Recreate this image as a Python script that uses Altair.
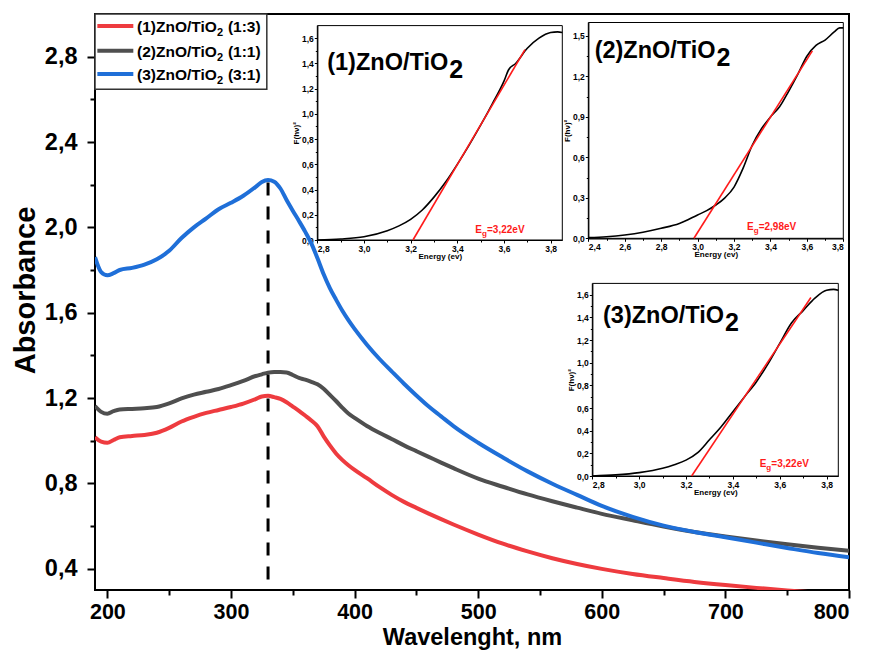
import altair as alt
import pandas as pd

FONT = "Liberation Sans"
COMMA1 = "replace(format(datum.value, '.1f'), '.', ',')"

# ---------------- main spectra ----------------
wavelength_nm = [190, 195, 200, 205, 210, 220, 230, 240, 250, 260, 270, 280, 290, 300, 310, 320,
                 325, 330, 335, 340, 345, 350, 355, 360, 365, 370, 375, 380, 385, 390, 395, 400,
                 410, 420, 430, 440, 450, 460, 470, 480, 500, 520, 540, 560, 580, 600,
                 625, 650, 675, 700, 725, 750, 775, 800]
absorb_13 = [1.016, 0.995, 0.990, 1.003, 1.016, 1.022, 1.027, 1.037, 1.060, 1.090, 1.112, 1.130, 1.144, 1.158, 1.174, 1.195,
             1.207, 1.210, 1.204, 1.196, 1.180, 1.160, 1.140, 1.118, 1.095, 1.068, 1.020, 0.978, 0.940, 0.910, 0.885, 0.863,
             0.824, 0.783, 0.746, 0.713, 0.685, 0.658, 0.632, 0.607, 0.560, 0.517, 0.481, 0.449, 0.422, 0.399,
             0.375, 0.356, 0.338, 0.323, 0.310, 0.298, 0.287, 0.277]
absorb_11 = [1.162, 1.135, 1.126, 1.138, 1.146, 1.149, 1.152, 1.158, 1.175, 1.198, 1.216, 1.229, 1.242, 1.260, 1.280, 1.303,
             1.311, 1.319, 1.322, 1.322, 1.320, 1.308, 1.294, 1.286, 1.276, 1.264, 1.243, 1.215, 1.186, 1.155, 1.127, 1.107,
             1.069, 1.037, 1.008, 0.978, 0.951, 0.924, 0.897, 0.871, 0.822, 0.784, 0.748, 0.716, 0.686, 0.657,
             0.627, 0.598, 0.572, 0.551, 0.532, 0.514, 0.498, 0.484]
absorb_31 = [1.860, 1.790, 1.775, 1.785, 1.800, 1.810, 1.825, 1.850, 1.890, 1.950, 2.000, 2.042, 2.085, 2.115, 2.148, 2.190,
             2.213, 2.222, 2.214, 2.182, 2.128, 2.078, 2.030, 1.980, 1.925, 1.855, 1.780, 1.715, 1.661, 1.610, 1.565, 1.524,
             1.450, 1.384, 1.325, 1.267, 1.212, 1.160, 1.114, 1.068, 0.990, 0.921, 0.856, 0.798, 0.746, 0.694,
             0.643, 0.602, 0.572, 0.547, 0.522, 0.497, 0.473, 0.453]
series_names = ["(1)ZnO/TiO2 (1:3)", "(2)ZnO/TiO2 (1:1)", "(3)ZnO/TiO2 (3:1)"]
series_colors = ["#EE3B3F", "#4F4F4F", "#1F6FD8"]

main_x_ticks = [200, 300, 400, 500, 600, 700, 800]
main_x_minor = [250, 350, 450, 550, 650, 750]
main_y_ticks = [0.4, 0.8, 1.2, 1.6, 2.0, 2.4, 2.8]
main_y_minor = [0.6, 1.0, 1.4, 1.8, 2.2, 2.6]

peak_nm = [330]
peak_top = [2.21]
peak_bottom = [0.3]

# legend (drawn in main data coordinates)
legend_box_x = [190, 329]
legend_box_y = [2.647, 3.0]
legend_line_x = [191.9, 221.0]
legend_rows_y = [2.944, 2.828, 2.719]
legend_text_main = ["(1)ZnO/TiO", "(2)ZnO/TiO", "(3)ZnO/TiO"]
legend_text_sub = ["2", "2", "2"]
legend_text_ratio = ["(1:3)", "(1:1)", "(3:1)"]
legend_junction_x = 288.6

# ---------------- insets (Tauc plots) ----------------
inset1_energy = [2.80, 2.90, 3.00, 3.10, 3.15, 3.20, 3.25, 3.30, 3.35, 3.40, 3.45, 3.50, 3.55, 3.60, 3.62,
                 3.65, 3.70, 3.75, 3.80, 3.83, 3.85]
inset1_f = [0.000, 0.008, 0.026, 0.074, 0.112, 0.164, 0.238, 0.340, 0.460, 0.600, 0.750, 0.910, 1.080, 1.260, 1.350,
            1.400, 1.520, 1.600, 1.645, 1.650, 1.645]
inset1_fit_e = [3.21, 3.69]
inset1_fit_f = [0.0, 1.51]

inset2_energy = [2.40, 2.50, 2.60, 2.70, 2.80, 2.90, 3.00, 3.05, 3.10, 3.15, 3.20, 3.25, 3.30, 3.35, 3.40,
                 3.45, 3.50, 3.55, 3.60, 3.65, 3.70, 3.75, 3.78, 3.80]
inset2_f = [0.005, 0.012, 0.025, 0.045, 0.074, 0.110, 0.173, 0.205, 0.247, 0.300, 0.380, 0.520, 0.690, 0.810, 0.900,
            0.975, 1.090, 1.215, 1.350, 1.430, 1.470, 1.530, 1.560, 1.560]
inset2_fit_e = [2.98, 3.63]
inset2_fit_f = [0.0, 1.39]

inset3_energy = [2.80, 2.90, 3.00, 3.10, 3.15, 3.20, 3.25, 3.30, 3.35, 3.40, 3.45, 3.50, 3.55, 3.60, 3.65,
                 3.70, 3.75, 3.80, 3.83, 3.85]
inset3_f = [0.000, 0.010, 0.030, 0.068, 0.100, 0.140, 0.206, 0.320, 0.435, 0.568, 0.700, 0.830, 0.990, 1.170, 1.350,
            1.460, 1.570, 1.640, 1.647, 1.640]
inset3_fit_e = [3.224, 3.733]
inset3_fit_f = [0.0, 1.576]

inset_titles = ["(1)ZnO/TiO", "(2)ZnO/TiO", "(3)ZnO/TiO"]
inset_title_at = [(3.361, 1.348), (3.099, 1.334), (3.362, 1.353)]
inset_eg_text = ["=3,22eV", "=2,98eV", "=3,22eV"]
inset_eg_at = [(3.506, 0.053), (3.308, 0.062), (3.543, 0.082)]

in1_x_ticks = [2.8, 3.0, 3.2, 3.4, 3.6, 3.8]
in1_x_minor = [2.9, 3.1, 3.3, 3.5, 3.7]
in1_y_ticks = [0.0, 0.2, 0.4, 0.6, 0.8, 1.0, 1.2, 1.4, 1.6]
in1_y_minor = [0.1, 0.3, 0.5, 0.7, 0.9, 1.1, 1.3, 1.5]
in2_x_ticks = [2.4, 2.6, 2.8, 3.0, 3.2, 3.4, 3.6, 3.8]
in2_x_minor = [2.5, 2.7, 2.9, 3.1, 3.3, 3.5, 3.7]
in2_y_ticks = [0.0, 0.3, 0.6, 0.9, 1.2, 1.5]
in2_y_minor = [0.15, 0.45, 0.75, 1.05, 1.35]

# panel geometry (scale domains / pixel ranges inside the main plot area)
W, H = 754, 576
MAIN = dict(xd=[190, 800], yd=[0.3, 3.0], xr=None, yr=None, xo=0, yo=0)
IN1 = dict(xd=[2.8, 3.85], yd=[0.0, 1.7], xr=[222.3, 467.3], yr=[226.0, 11.6], xo=226.0 - H, yo=-222.3)
IN2 = dict(xd=[2.4, 3.8], yd=[0.0, 1.6], xr=[493.3, 748.3], yr=[224.3, 8.5], xo=224.3 - H, yo=-493.3)
IN3 = dict(xd=[2.8, 3.85], yd=[0.0, 1.7], xr=[497.3, 743.3], yr=[462.0, 269.4], xo=462.0 - H, yo=-497.3)


def sc(dom, rng):
    if rng is None:
        return alt.Scale(domain=dom, nice=False, zero=False)
    return alt.Scale(domain=dom, range=rng, nice=False, zero=False)


def X(p, f, axis=None):
    return alt.X(f, type="quantitative", scale=sc(p["xd"], p["xr"]), axis=axis)


def Y(p, f, axis=None):
    return alt.Y(f, type="quantitative", scale=sc(p["yd"], p["yr"]), axis=axis)


layers = []

# main curves
rows = []
for name, vals in zip(series_names, [absorb_13, absorb_11, absorb_31]):
    for w, a in zip(wavelength_nm, vals):
        rows.append({"wl": w, "a": a, "s": name})
df_main = pd.DataFrame(rows)

main_xaxis = alt.Axis(orient="bottom", values=main_x_ticks, format="d", labelFont=FONT, labelFontWeight="bold",
                      labelFontSize=21.5, labelColor="black", tickColor="black", tickWidth=2, tickSize=8,
                      labelPadding=3, domain=False, grid=False, title="Wavelenght, nm", titleFont=FONT,
                      titleFontSize=23.5, titleFontWeight="bold", titleColor="black", titlePadding=3)
main_yaxis = alt.Axis(orient="left", values=main_y_ticks, labelExpr=COMMA1, labelFont=FONT, labelFontWeight="bold",
                      labelFontSize=23.5, labelColor="black", tickColor="black", tickWidth=2, tickSize=8,
                      labelPadding=10, domain=False, grid=False, title="Absorbance", titleFont=FONT,
                      titleFontSize=29, titleFontWeight="bold", titleColor="black", titlePadding=4, titleY=276)

layers.append(
    alt.Chart(df_main).mark_line(strokeWidth=4, clip=True, interpolate="monotone").encode(
        x=X(MAIN, "wl", main_xaxis), y=Y(MAIN, "a", main_yaxis),
        color=alt.Color("s:N", scale=alt.Scale(domain=series_names, range=series_colors), legend=None),
    )
)

# main minor ticks
minor_x_axis = alt.Axis(orient="bottom", values=main_x_minor, labels=False, tickColor="black", tickWidth=2,
                        tickSize=5, domain=False, grid=False, title=None)
minor_y_axis = alt.Axis(orient="left", values=main_y_minor, labels=False, tickColor="black", tickWidth=2,
                        tickSize=5, domain=False, grid=False, title=None)
layers.append(
    alt.Chart(df_main).mark_point(opacity=0).encode(x=X(MAIN, "wl", minor_x_axis), y=Y(MAIN, "a", minor_y_axis))
)

# dashed peak marker
df_peak = pd.DataFrame({"x": peak_nm, "y": peak_top, "y2": peak_bottom})
layers.append(
    alt.Chart(df_peak).mark_rule(color="black", strokeWidth=3, strokeDash=[13, 11]).encode(
        x=X(MAIN, "x"), y=Y(MAIN, "y"), y2="y2:Q"
    )
)

# legend
df_lbox = pd.DataFrame({"x": [legend_box_x[0]], "x2": [legend_box_x[1]], "y": [legend_box_y[0]], "y2": [legend_box_y[1]]})
layers.append(
    alt.Chart(df_lbox).mark_rect(fill="white", stroke="#333333", strokeWidth=1.5).encode(
        x=X(MAIN, "x"), x2="x2:Q", y=Y(MAIN, "y"), y2="y2:Q"
    )
)
df_lline = pd.DataFrame({"x": [legend_line_x[0]] * 3, "x2": [legend_line_x[1]] * 3, "y": legend_rows_y,
                         "s": series_names})
layers.append(
    alt.Chart(df_lline).mark_rule(strokeWidth=4).encode(
        x=X(MAIN, "x"), x2="x2:Q", y=Y(MAIN, "y"),
        color=alt.Color("s:N", scale=alt.Scale(domain=series_names, range=series_colors), legend=None),
    )
)
df_ltext = pd.DataFrame({"x": [legend_junction_x] * 3, "y": legend_rows_y, "main": legend_text_main,
                         "sub": legend_text_sub, "ratio": legend_text_ratio})
layers.append(
    alt.Chart(df_ltext).mark_text(align="right", baseline="alphabetic", dy=6, font=FONT, fontWeight="bold",
                                  fontSize=15.5, color="black").encode(x=X(MAIN, "x"), y=Y(MAIN, "y"), text="main:N")
)
layers.append(
    alt.Chart(df_ltext).mark_text(align="left", baseline="alphabetic", dy=10, font=FONT, fontWeight="bold",
                                  fontSize=11, color="black").encode(x=X(MAIN, "x"), y=Y(MAIN, "y"), text="sub:N")
)
layers.append(
    alt.Chart(df_ltext).mark_text(align="left", baseline="alphabetic", dx=11, dy=6, font=FONT, fontWeight="bold",
                                  fontSize=15.5, color="black").encode(x=X(MAIN, "x"), y=Y(MAIN, "y"), text="ratio:N")
)


def inset(p, energy, f, fit_e, fit_f, xt, xm, yt, ym, title, title_at, eg, eg_at):
    out = []
    xa = alt.Axis(orient="bottom", offset=p["xo"], values=xt, labelExpr=COMMA1, labelFont=FONT,
                  labelFontWeight="bold", labelFontSize=8.5, labelColor="black", labelPadding=1,
                  tickColor="black", tickSize=3, tickWidth=1, domainColor="black", domainWidth=1.2,
                  grid=False, title="Energy (ev)", titleFont=FONT, titleFontSize=8, titleFontWeight="bold",
                  titleColor="black", titlePadding=0)
    ya = alt.Axis(orient="left", offset=p["yo"], values=yt, labelExpr=COMMA1, labelFont=FONT,
                  labelFontWeight="bold", labelFontSize=8.5, labelColor="black", labelPadding=1,
                  tickColor="black", tickSize=3, tickWidth=1, domainColor="black", domainWidth=1.2,
                  grid=False, title="F(hν)²", titleFont=FONT, titleFontSize=8, titleFontWeight="bold",
                  titleColor="black", titlePadding=1)
    df = pd.DataFrame({"e": energy, "f": f})
    # frame
    dfb = pd.DataFrame({"x": [p["xd"][0]], "x2": [p["xd"][1]], "y": [p["yd"][0]], "y2": [p["yd"][1]]})
    out.append(alt.Chart(dfb).mark_rect(fillOpacity=0, stroke="black", strokeWidth=1).encode(
        x=X(p, "x"), x2="x2:Q", y=Y(p, "y"), y2="y2:Q"))
    out.append(alt.Chart(df).mark_line(color="black", strokeWidth=1.6, interpolate="monotone").encode(
        x=X(p, "e", xa), y=Y(p, "f", ya)))
    xma = alt.Axis(orient="bottom", offset=p["xo"], values=xm, labels=False, tickColor="black", tickSize=2,
                   tickWidth=1, domain=False, grid=False, title=None)
    yma = alt.Axis(orient="left", offset=p["yo"], values=ym, labels=False, tickColor="black", tickSize=2,
                   tickWidth=1, domain=False, grid=False, title=None)
    out.append(alt.Chart(df).mark_point(opacity=0).encode(x=X(p, "e", xma), y=Y(p, "f", yma)))
    dff = pd.DataFrame({"e": fit_e, "f": fit_f})
    out.append(alt.Chart(dff).mark_line(color="#FF1A1A", strokeWidth=1.6).encode(x=X(p, "e"), y=Y(p, "f")))
    dft = pd.DataFrame({"x": [title_at[0]], "y": [title_at[1]], "t": [title], "s": ["2"]})
    out.append(alt.Chart(dft).mark_text(align="right", baseline="alphabetic", font=FONT, fontWeight="bold",
                                        fontSize=23.5, color="black").encode(x=X(p, "x"), y=Y(p, "y"), text="t:N"))
    out.append(alt.Chart(dft).mark_text(align="left", baseline="alphabetic", dx=1, dy=8, font=FONT,
                                        fontWeight="bold", fontSize=25, color="black").encode(
        x=X(p, "x"), y=Y(p, "y"), text="s:N"))
    dfe = pd.DataFrame({"x": [eg_at[0]], "y": [eg_at[1]], "e": ["E"], "g": ["g"], "v": [eg]})
    out.append(alt.Chart(dfe).mark_text(align="right", baseline="alphabetic", font=FONT, fontWeight="bold",
                                        fontSize=10, color="#FF1A1A").encode(x=X(p, "x"), y=Y(p, "y"), text="e:N"))
    out.append(alt.Chart(dfe).mark_text(align="left", baseline="alphabetic", dy=3, font=FONT, fontWeight="bold",
                                        fontSize=8, color="#FF1A1A").encode(x=X(p, "x"), y=Y(p, "y"), text="g:N"))
    out.append(alt.Chart(dfe).mark_text(align="left", baseline="alphabetic", dx=5, font=FONT, fontWeight="bold",
                                        fontSize=10, color="#FF1A1A").encode(x=X(p, "x"), y=Y(p, "y"), text="v:N"))
    return out


layers += inset(IN1, inset1_energy, inset1_f, inset1_fit_e, inset1_fit_f, in1_x_ticks, in1_x_minor,
                in1_y_ticks, in1_y_minor, inset_titles[0], inset_title_at[0], inset_eg_text[0], inset_eg_at[0])
layers += inset(IN2, inset2_energy, inset2_f, inset2_fit_e, inset2_fit_f, in2_x_ticks, in2_x_minor,
                in2_y_ticks, in2_y_minor, inset_titles[1], inset_title_at[1], inset_eg_text[1], inset_eg_at[1])
layers += inset(IN3, inset3_energy, inset3_f, inset3_fit_e, inset3_fit_f, in1_x_ticks, in1_x_minor,
                in1_y_ticks, in1_y_minor, inset_titles[2], inset_title_at[2], inset_eg_text[2], inset_eg_at[2])

chart = (
    alt.layer(*layers)
    .resolve_scale(x="independent", y="independent", color="independent")
    .resolve_axis(x="independent", y="independent")
    .properties(width=W, height=H, autosize=alt.AutoSizeParams(type="none"),
                padding={"left": 87, "top": 6, "right": 12, "bottom": 63}, background="white")
    .configure_view(stroke="black", strokeWidth=2)
)

chart.save("out.html", embed_options={"renderer": "svg", "actions": False})
